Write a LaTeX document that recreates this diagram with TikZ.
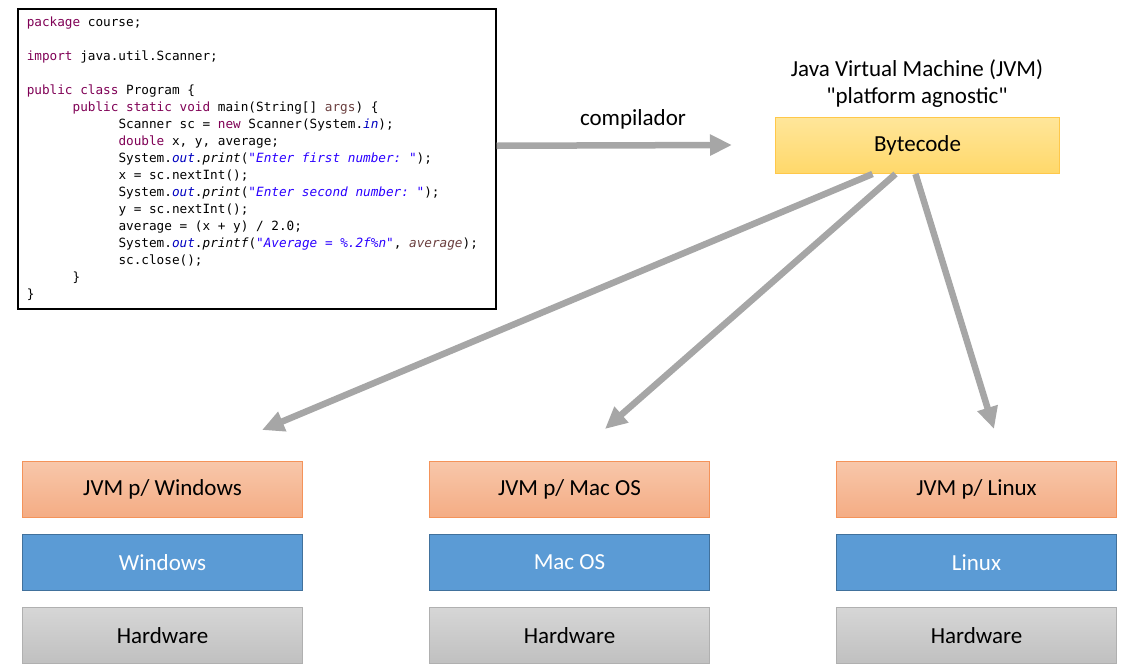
\documentclass[tikz,border=0pt]{standalone}
\usepackage{fontspec}
\setmainfont{Carlito}[Ligatures=TeXOff]
\newfontfamily\codefont{DejaVu Sans Mono}
\usetikzlibrary{positioning,arrows.meta}

\definecolor{kwcol}{HTML}{7F0055}
\definecolor{strcol}{HTML}{2A00FF}
\definecolor{fldcol}{HTML}{0000C0}
\definecolor{varcol}{HTML}{6A3E3E}
\definecolor{flowgray}{HTML}{A6A6A6}
\definecolor{bytedraw}{HTML}{FFC84A}
\definecolor{bytetop}{HTML}{FFE69A}
\definecolor{bytebot}{HTML}{FFD86A}
\definecolor{jvmdraw}{HTML}{F4935A}
\definecolor{jvmtop}{HTML}{F8C7AA}
\definecolor{jvmbot}{HTML}{F4AC84}
\definecolor{osdraw}{HTML}{41719C}
\definecolor{osfill}{HTML}{5B9BD5}
\definecolor{hwdraw}{HTML}{B0B0B0}
\definecolor{hwtop}{HTML}{D6D6D6}
\definecolor{hwbot}{HTML}{C0C0C0}

\newcommand\kw[1]{\textcolor{kwcol}{#1}}
\newcommand\st[1]{\textcolor{strcol}{\textit{#1}}}
\newcommand\fd[1]{\textcolor{fldcol}{\textit{#1}}}
\newcommand\vr[1]{\textcolor{varcol}{#1}}
\newcommand\tb{\phantom{mmmmmm}}
\newcommand\codespacing{\frenchspacing\spaceskip=0.602em\relax\xspaceskip=\spaceskip}

\tikzset{
  label text/.style={font=\fontsize{23}{27}\selectfont},
  box/.style={label text, minimum width=280pt, minimum height=56pt, line width=1pt, inner sep=0pt},
  bytebox/.style={box, minimum width=284pt, draw=bytedraw, top color=bytetop, bottom color=bytebot},
  jvmbox/.style={box, draw=jvmdraw, top color=jvmtop, bottom color=jvmbot},
  osbox/.style={box, draw=osdraw, fill=osfill, text=white},
  hwbox/.style={box, draw=hwdraw, top color=hwtop, bottom color=hwbot},
  codebox/.style={draw, line width=1.5pt, anchor=north west, inner xsep=9pt, inner ysep=0pt,
    text width=460pt, minimum height=300pt, align=left,
    font=\codefont\fontsize{12.7}{17}\selectfont},
  flow/.style={draw=flowgray, line width=6.5pt, -{Triangle[length=22pt,width=20pt]}},
}

\begin{document}
\begin{tikzpicture}[x=1pt, y=-1pt]
  \useasboundingbox (0,0) rectangle (1131,670);

  % source code
  \node[codebox] (code) at (17,8) {\codespacing
\kw{package} course;\\
~\\
\kw{import} java.util.Scanner;\\
~\\
\kw{public} \kw{class} Program \{\\
\tb\kw{public} \kw{static} \kw{void} main(String[] \vr{args}) \{\\
\tb\tb Scanner sc = \kw{new} Scanner(System.\fd{in});\\
\tb\tb\kw{double} x, y, average;\\
\tb\tb System.\fd{out}.\textit{print}(\st{"Enter first number: "});\\
\tb\tb x = sc.nextInt();\\
\tb\tb System.\fd{out}.\textit{print}(\st{"Enter second number: "});\\
\tb\tb y = sc.nextInt();\\
\tb\tb average = (x + y) / 2.0;\\
\tb\tb System.\fd{out}.\textit{printf}(\st{"Average = \%.2f\%n"}, \vr{\textit{average}});\\
\tb\tb sc.close();\\
\tb\}\\
\}};

  % JVM
  \node[label text, align=center] (jvmtitle) at (917,84)
    {Java Virtual Machine (JVM)\\"platform agnostic"};
  \node[bytebox] (byte) at (917.5,145.5) {Bytecode};

  \coordinate (compend) at (732,145);
  \node[label text] (complabel) at (633,119) {compilador};
  \draw[flow] ([yshift=13pt]code.east) -- (compend);

  % platforms
  \node[jvmbox] (jvmwin) at (162.5,489.5) {JVM p/ Windows};
  \node[osbox, below=16pt of jvmwin] (win) {Windows};
  \node[hwbox, below=16pt of win] (hwwin) {Hardware};

  \node[jvmbox] (jvmmac) at (569.5,489.5) {JVM p/ Mac OS};
  \node[osbox, below=16pt of jvmmac] (mac) {Mac OS};
  \node[hwbox, below=16pt of mac] (hwmac) {Hardware};

  \node[jvmbox] (jvmlin) at (976.5,489.5) {JVM p/ Linux};
  \node[osbox, below=16pt of jvmlin] (lin) {Linux};
  \node[hwbox, below=16pt of lin] (hwlin) {Hardware};

  \coordinate (tipwin) at (262,430);
  \coordinate (tipmac) at (605,429);
  \coordinate (tiplin) at (994,429);
  \draw[flow] ([xshift=-45pt]byte.south) -- (tipwin);
  \draw[flow] ([xshift=-22pt]byte.south) -- (tipmac);
  \draw[flow] ([xshift=-2pt]byte.south) -- (tiplin);
\end{tikzpicture}
\end{document}
